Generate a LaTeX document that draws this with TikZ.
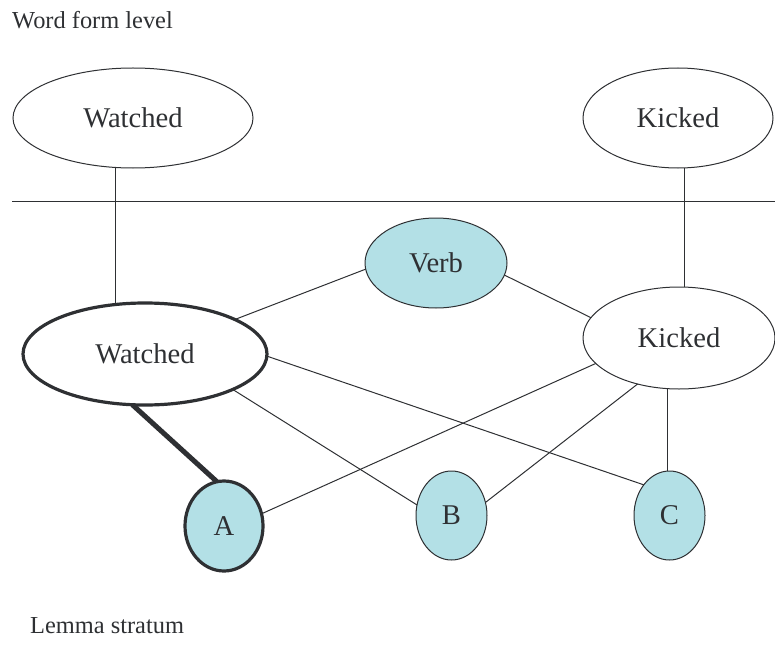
\documentclass[tikz,border=0pt]{standalone}
\usepackage{fontspec}
\setmainfont{Liberation Serif}
\usetikzlibrary{shapes.geometric}
\definecolor{lemmafill}{HTML}{B3E0E6}
\definecolor{ink}{HTML}{2E3033}
\tikzset{
  ell/.style={ellipse, draw=ink, line width=1pt, inner sep=0pt, outer sep=0pt, text=ink,
    font=\fontsize{28.6}{30}\selectfont},
  boldell/.style={ell, line width=3.2pt},
  lemma/.style={fill=lemmafill},
  link/.style={draw=ink, line width=1pt},
  boldlink/.style={draw=ink, line width=5pt},
  lbl/.style={anchor=base west, inner sep=0pt, text=ink, font=\fontsize{24.4}{28}\selectfont}
}
\begin{document}
\begin{tikzpicture}[x=1pt, y=-1pt]
\useasboundingbox (0,0) rectangle (775,655);
% labels
\node[lbl] (wfl) at (12,29) {Word form level};
\node[lbl] (ls) at (30,633) {Lemma stratum};
% divider
\coordinate (hl) at (12,201);
\coordinate (hr) at (775,201);
\draw[link] (hl) -- (hr);
% word form nodes
\node[ell, minimum width=240pt, minimum height=100pt] (Wt) at (133,118) {Watched};
\node[ell, minimum width=190pt, minimum height=100pt] (Kt) at (678,118) {Kicked};
% lemma nodes
\node[boldell, minimum width=244pt, minimum height=102pt] (W) at (145,354) {Watched};
\node[ell, minimum width=192pt, minimum height=102pt] (K) at (679,338) {Kicked};
\node[ell, lemma, minimum width=142pt, minimum height=90pt] (V) at (436,263) {Verb};
\node[boldell, lemma, minimum width=78pt, minimum height=90pt] (A) at (224,526) {A};
\node[ell, lemma, minimum width=71pt, minimum height=89pt] (B) at (451.5,515.5) {B};
\node[ell, lemma, minimum width=71pt, minimum height=89pt] (C) at (669.5,515.5) {C};
% vertical links across the divider
\coordinate (wx) at (115,0);
\coordinate (kx) at (684,0);
\draw[link] (Wt.south -| wx) -- (W.north -| wx);
\draw[link] (Kt.south -| kx) -- (K.north -| kx);
% lemma links
\draw[link] (W.21) -- (V.185);
\draw[link] (V.-10) -- (K.167);
\draw[link] (W.-1) -- (C.130);
\draw[link] (W.-22) -- (B.163);
\draw[link] (K.197) -- (A.18);
\draw[link] (K.228) -- (B.21);
\coordinate (cx) at (667,0);
\draw[link] (C.north -| cx) -- (K.south -| cx);
\draw[boldlink] (W.-104) -- (A.99);
\end{tikzpicture}
\end{document}
